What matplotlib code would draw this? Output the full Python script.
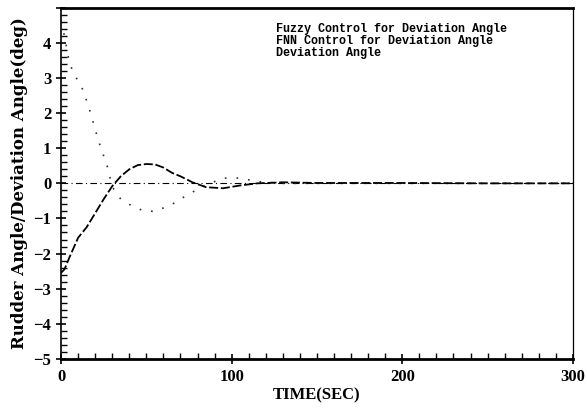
import numpy as np
import matplotlib
matplotlib.use('Agg')
import matplotlib.pyplot as plt
from matplotlib.ticker import MultipleLocator

# data
t_fnn = [0, 2, 5, 10, 15, 20, 25, 30, 35, 40, 45, 50, 55, 60, 65, 70, 77, 85, 95, 105, 115, 130, 150, 200, 250, 300]
y_fnn = [-2.55, -2.45, -2.1, -1.55, -1.25, -0.85, -0.45, -0.08, 0.2, 0.4, 0.52, 0.55, 0.54, 0.45, 0.3, 0.2, 0.03, -0.11, -0.14, -0.06, 0.0, 0.03, 0.01, 0.01, 0.0, 0.0]

t_fuzzy = [0, 2, 5, 10, 13, 17, 22, 27, 30, 35, 40, 48, 55, 65, 75, 85, 95, 105, 115, 130, 150, 300]
y_fuzzy = [4.6, 4.2, 3.4, 2.9, 2.65, 2.05, 1.2, 0.5, -0.1, -0.45, -0.6, -0.78, -0.8, -0.6, -0.3, -0.05, 0.15, 0.15, 0.05, 0.0, 0.0, 0.0]

t_dev = [0, 300]
y_dev = [0, 0]

legend_lines = ['Fuzzy Control for Deviation Angle',
                'FNN Control for Deviation Angle',
                'Deviation Angle']

plt.rcParams['font.family'] = ['Liberation Serif', 'DejaVu Serif']

fig = plt.figure(figsize=(5.87, 4.12), dpi=100)
ax = fig.add_axes([0.104, 0.129, 0.872, 0.852])

ax.plot(t_dev, y_dev, color='black', lw=0.8, linestyle=(0, (6, 3, 1, 3)))
ax.plot(t_fuzzy, y_fuzzy, color='#333333', lw=1.2, linestyle=(0, (1, 6)))
ax.plot(t_fnn, y_fnn, color='black', lw=1.3, linestyle=(0, (5, 1.5)))

ax.set_xlim(0, 300)
ax.set_ylim(-5, 5)

ax.xaxis.set_major_locator(MultipleLocator(100))
ax.xaxis.set_minor_locator(MultipleLocator(10))
ax.yaxis.set_major_locator(MultipleLocator(1))
ax.yaxis.set_minor_locator(MultipleLocator(0.2))

ax.tick_params(axis='both', which='major', direction='inout', length=7, width=1.2,
               labelsize=12, top=False, right=False)
ax.tick_params(axis='both', which='minor', direction='in', length=4, width=1,
               top=False, right=False)
for lab in ax.get_xticklabels() + ax.get_yticklabels():
    lab.set_fontweight('bold')
ax.set_yticks(range(-5, 6))
ax.set_yticklabels(['\u22125', '\u22124', '\u22123', '\u22122', '\u22121', '0', '1', '2', '3', '4', ''],
                   fontweight='bold', fontsize=12)

ax.spines['top'].set_linewidth(2)
ax.spines['bottom'].set_linewidth(2)
ax.spines['left'].set_linewidth(1.2)
ax.spines['right'].set_linewidth(0.9)

ax.set_xlabel('TIME(SEC)', fontsize=12, fontweight='heavy', labelpad=2)
ax.set_ylabel('Rudder Angle/Deviation Angle(deg)', fontsize=12, fontweight='bold',
              family='DejaVu Serif', labelpad=4)

for i, s in enumerate(legend_lines):
    ax.text(0.42, 0.94 - i * 0.034, s, transform=ax.transAxes, fontsize=8.5,
            fontweight='bold', va='center', ha='left', family='Liberation Mono')

fig.savefig('out.png', dpi=100)
